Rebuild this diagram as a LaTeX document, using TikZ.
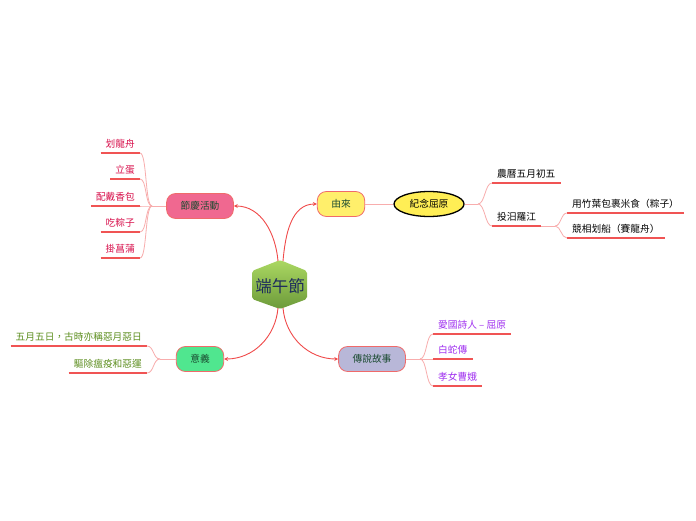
\documentclass[tikz,border=0pt]{standalone}
\usepackage{fontspec}
\setmainfont{Noto Sans CJK TC}
\usetikzlibrary{arrows.meta,shapes.geometric}
\definecolor{mainred}{HTML}{F04A4A}
\definecolor{twigpink}{HTML}{F8ADAD}
\definecolor{ulred}{HTML}{F05454}
\definecolor{topictext}{HTML}{1A4A30}
\definecolor{topicborder}{HTML}{F06A6A}
\definecolor{yelfill}{HTML}{FFEF6B}
\definecolor{pinkfill}{HTML}{F06890}
\definecolor{greenfill}{HTML}{50E68F}
\definecolor{lavfill}{HTML}{B8B7D8}
\definecolor{ellfill}{HTML}{FFEE55}
\definecolor{crimson}{HTML}{D8104C}
\definecolor{olive}{HTML}{5C8E1E}
\definecolor{purp}{HTML}{A030F0}
\definecolor{navy}{HTML}{1E2C5C}
\definecolor{hextop}{HTML}{ABD862}
\definecolor{hexbot}{HTML}{6C9A3A}
\tikzset{
  topic/.style={draw=topicborder, line width=0.8pt, rounded corners=9pt,
    minimum height=25pt, inner xsep=14pt, text=topictext,
    font=\fontsize{9.7}{11}\selectfont},
  leaf/.style={inner xsep=5pt, inner ysep=5.5pt, text height=8pt, text depth=0pt,
    font=\fontsize{9.7}{11}\selectfont},
  uline/.style={draw=ulred, line width=1.3pt},
  twig/.style={draw=twigpink, line width=0.8pt},
  mainline/.style={draw=mainred, line width=0.9pt, -{Stealth[length=4pt,width=4pt]}},
}
\begin{document}
\begin{tikzpicture}[x=1pt,y=1pt]
\useasboundingbox (0,0) rectangle (696,520);
\fill[white] (0,0) rectangle (696,520);

% central hexagon
\shade[top color=hextop, bottom color=hexbot, rounded corners=2pt]
  (280,260) -- (307,249) -- (307,221) -- (280,211) -- (252,221) -- (252,249) -- cycle;
\node[text=navy, font=\fontsize{16.5}{18}\selectfont] (c) at (280,234) {端午節};
\coordinate (ctl) at (278,259);
\coordinate (ctr) at (283,259);
\coordinate (cbl) at (278,212);
\coordinate (cbr) at (283,212);

% main topics
\node[topic, fill=yelfill] (yl) at (341,316) {由來};
\node[topic, fill=pinkfill] (jq) at (200,314) {節慶活動};
\node[topic, fill=greenfill] (yy) at (200,161) {意義};
\node[topic, fill=lavfill] (cs) at (372,161) {傳說故事};

\draw[mainline] (ctr) to[out=85,in=180] (yl.west);
\draw[mainline] (ctl) to[out=95,in=0] (jq.east);
\draw[mainline] (cbl) to[out=-95,in=0] (yy.east);
\draw[mainline] (cbr) to[out=-85,in=180] (cs.west);

% 由來 branch
\node[ellipse, draw=black, line width=1.3pt, fill=ellfill, minimum width=70pt,
  minimum height=25pt, inner sep=0pt, font=\fontsize{9.7}{11}\selectfont] (jn) at (429,316) {紀念屈原};
\draw[twig] (yl.east) -- (jn.west);
\coordinate (b4) at (478,316);
\draw[twig] (jn.east) -- (b4);
\node[leaf, anchor=south west] (r1) at (492,337) {農曆五月初五};
\node[leaf, anchor=south west] (r2) at (492,294) {投汨羅江};
\foreach \n in {r1,r2} {
  \draw[uline] (\n.south west) -- (\n.south east);
  \draw[twig] (b4) .. controls +(7,0) and +(-7,0) .. (\n.south west);
}
\coordinate (b5) at (555,294);
\draw[twig] (r2.south east) -- (b5);
\node[leaf, anchor=south west] (r3) at (567,307) {用竹葉包裹米食（粽子）};
\node[leaf, anchor=south west] (r4) at (567,282) {競相划船（賽龍舟）};
\foreach \n in {r3,r4} {
  \draw[uline] (\n.south west) -- (\n.south east);
  \draw[twig] (b5) .. controls +(6,0) and +(-6,0) .. (\n.south west);
}

% 節慶活動 branch
\coordinate (b1) at (152,314);
\draw[twig] (jq.west) -- (b1);
\node[leaf, text=crimson, anchor=south east] (a1) at (140,367) {划龍舟};
\node[leaf, text=crimson, anchor=south east] (a2) at (140,341) {立蛋};
\node[leaf, text=crimson, anchor=south east] (a3) at (140,314) {配戴香包};
\node[leaf, text=crimson, anchor=south east] (a4) at (140,288) {吃粽子};
\node[leaf, text=crimson, anchor=south east] (a5) at (140,262) {掛菖蒲};
\foreach \n in {a1,a2,a3,a4,a5} {
  \draw[uline] (\n.south west) -- (\n.south east);
  \draw[twig] (b1) .. controls +(-7,0) and +(7,0) .. (\n.south east);
}

% 意義 branch
\coordinate (b2) at (160,161);
\draw[twig] (yy.west) -- (b2);
\node[leaf, text=olive, anchor=south east] (m1) at (147,174) {五月五日，古時亦稱惡月惡日};
\node[leaf, text=olive, anchor=south east] (m2) at (147,147) {驅除瘟疫和惡運};
\foreach \n in {m1,m2} {
  \draw[uline] (\n.south west) -- (\n.south east);
  \draw[twig] (b2) .. controls +(-7,0) and +(7,0) .. (\n.south east);
}

% 傳說故事 branch
\coordinate (b3) at (420,161);
\draw[twig] (cs.east) -- (b3);
\node[leaf, text=purp, anchor=south west] (s1) at (433,186) {愛國詩人 – 屈原};
\node[leaf, text=purp, anchor=south west] (s2) at (433,161) {白蛇傳};
\node[leaf, text=purp, anchor=south west] (s3) at (433,134) {孝女曹娥};
\foreach \n in {s1,s2,s3} {
  \draw[uline] (\n.south west) -- (\n.south east);
  \draw[twig] (b3) .. controls +(7,0) and +(-7,0) .. (\n.south west);
}
\end{tikzpicture}
\end{document}
